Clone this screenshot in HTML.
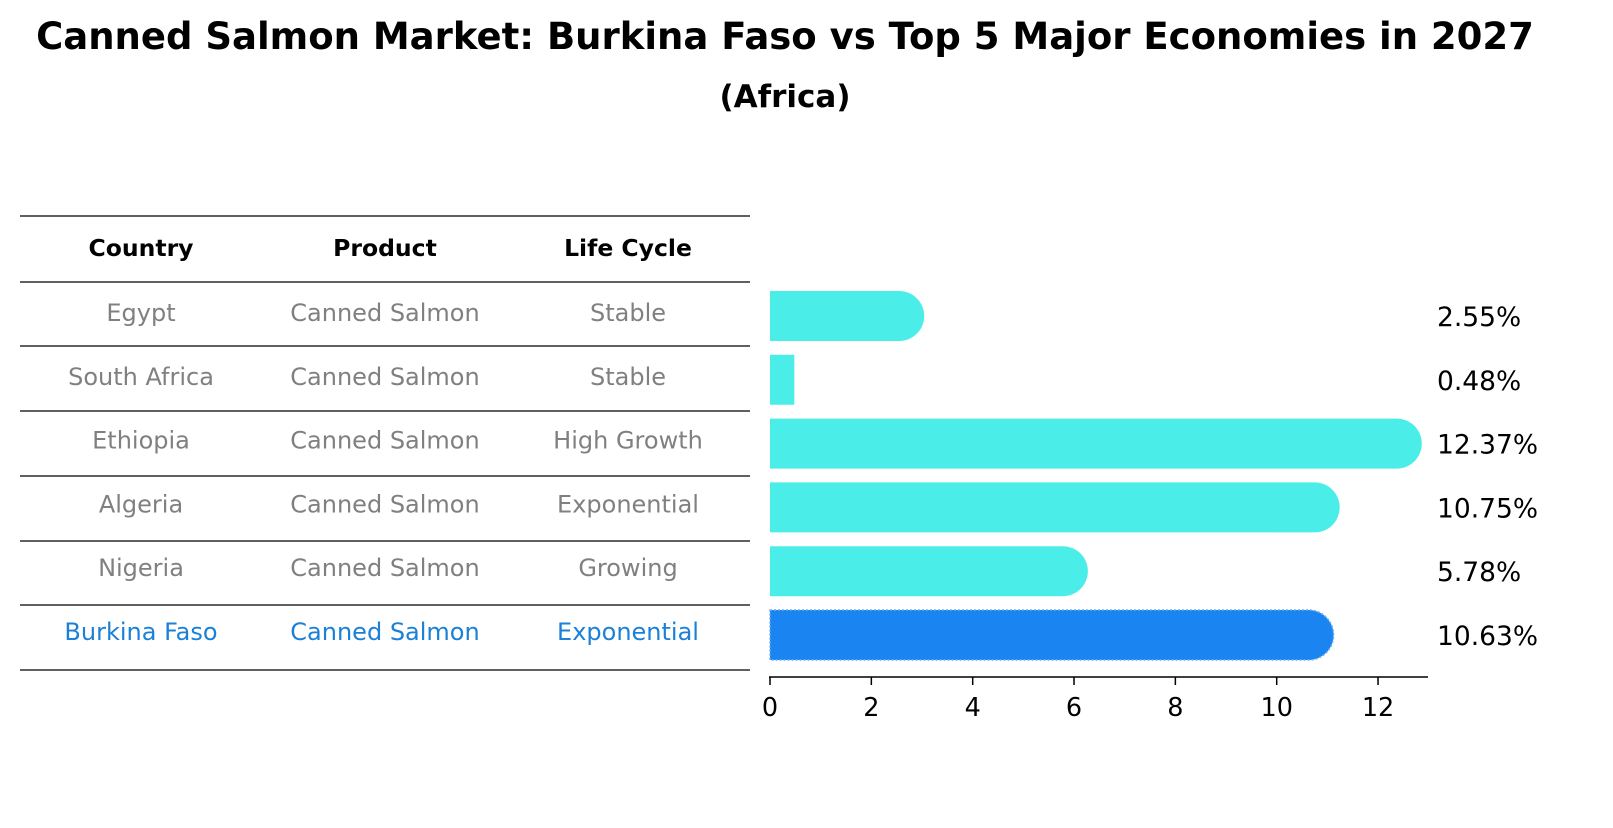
<!DOCTYPE html>
<html><head><meta charset="utf-8"><style>
body{margin:0;background:#fff;font-family:"Liberation Sans","DejaVu Sans",sans-serif;}
svg text{font-family:"DejaVu Sans","Liberation Sans",sans-serif;}
</style></head><body>
<svg width="1613" height="823" xmlns="http://www.w3.org/2000/svg">
<text x="785" y="49" text-anchor="middle" font-size="37" font-weight="bold">Canned Salmon Market: Burkina Faso vs Top 5 Major Economies in 2027</text>
<text x="785" y="107" text-anchor="middle" font-size="31" font-weight="bold">(Africa)</text>
<g id="table"></g>
<g id="bars"></g>
<g id="axis"></g>
</svg>
<script>
const countries=["Egypt","South Africa","Ethiopia","Algeria","Nigeria","Burkina Faso"];
const products=["Canned Salmon","Canned Salmon","Canned Salmon","Canned Salmon","Canned Salmon","Canned Salmon"];
const lifecycles=["Stable","Stable","High Growth","Exponential","Growing","Exponential"];
const values=[2.55,0.48,12.37,10.75,5.78,10.63];
const ticks=[0,2,4,6,8,10,12];
const NS="http://www.w3.org/2000/svg";
function mk(t,a,p){const e=document.createElementNS(NS,t);for(const k in a)e.setAttribute(k,a[k]);p.appendChild(e);return e;}
const x=v=>770+v*50.67;
const rowY=i=>316+i*63.8;
const tbl=document.getElementById('table'),bars=document.getElementById('bars'),ax=document.getElementById('axis');
const lines=[216,282,346,411,476,541,605,670];
lines.forEach(y=>{const l=mk('line',{x1:20,x2:750,y1:y,y2:y,stroke:'#000','stroke-width':1.2},tbl);
});
const cols=[141,385,628];
["Country","Product","Life Cycle"].forEach((h,j)=>{const t=mk('text',{x:cols[j],y:256,'text-anchor':'middle','font-size':23.5,'font-weight':'bold'},tbl);t.textContent=h;
});
countries.forEach((c,i)=>{
 const col=i===5?'#1a80d8':'#808080';
 [c,products[i],lifecycles[i]].forEach((s,j)=>{const t=mk('text',{x:cols[j],y:rowY(i)+5,'text-anchor':'middle','font-size':24,fill:col},tbl);t.textContent=s;
 });
 const v=values[i],x0=x(0),x1=x(v),yc=rowY(i),h=50,r=25;
 let d;
 if(v<1){d=`M${x0},${yc-h/2}H${x1}V${yc+h/2}H${x0}Z`;}
 else{d=`M${x0},${yc-h/2}H${x1}A${r},${r} 0 0 1 ${x1},${yc+h/2}H${x0}Z`;}
 const attrs={d:d,fill:i===5?'#1a84f0':'#4aede8'};
 if(i===5){attrs.stroke='#6aaef8';attrs['stroke-width']=1.5;attrs['stroke-dasharray']='2,2';}
 const p=mk('path',attrs,bars);
 
 const lt=mk('text',{x:1437,y:yc+10,'font-size':26.5},bars);lt.textContent=v.toFixed(2)+'%';
 
});
const al=mk('line',{x1:769,x2:1428,y1:677,y2:677,stroke:'#000','stroke-width':1.5},ax);

ticks.forEach(t=>{const l=mk('line',{x1:x(t),x2:x(t),y1:677,y2:685,stroke:'#000','stroke-width':1.5},ax);

const tx=mk('text',{x:x(t),y:716,'text-anchor':'middle','font-size':25.5},ax);tx.textContent=t;
});
</script>
</body></html>
